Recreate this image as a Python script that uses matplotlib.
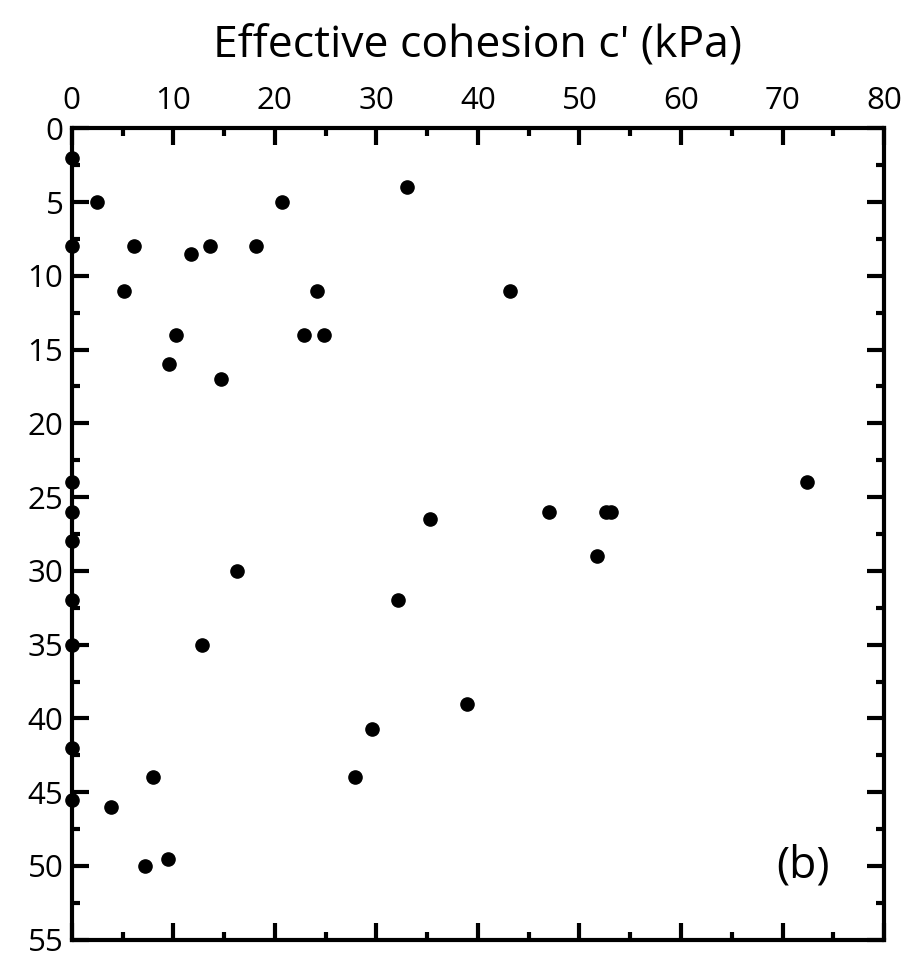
import matplotlib.pyplot as plt
from matplotlib.ticker import MultipleLocator

plt.rcParams['font.family'] = ['Open Sans', 'DejaVu Sans']

# Effective cohesion c' (kPa) vs depth (m)
cohesion = [0, 2.5, 0, 6.1, 11.7, 13.6, 18.1, 20.7, 33.0, 5.1, 24.2, 43.2,
            10.3, 22.9, 24.8, 9.6, 14.7, 0, 0, 0, 0, 0, 0, 0,
            72.4, 35.3, 47.0, 52.6, 53.1, 51.7, 16.3, 32.1, 12.8, 38.9,
            29.6, 27.9, 8.0, 3.9, 7.2, 9.5]
depth = [2, 5, 8, 8, 8.5, 8, 8, 5, 4, 11, 11, 11,
         14, 14, 14, 16, 17, 24, 26, 28, 32, 35, 42, 45.5,
         24, 26.5, 26, 26, 26, 29, 30, 32, 35, 39,
         40.7, 44, 44, 46, 50, 49.5]

fig = plt.figure(figsize=(9.2, 9.57), dpi=100)
ax = fig.add_axes([0.078, 0.018, 0.883, 0.848])

ax.plot(cohesion, depth, 'o', color='black', markersize=9.5, clip_on=False, zorder=3)

ax.set_xlim(0, 80)
ax.set_ylim(55, 0)
ax.xaxis.set_major_locator(MultipleLocator(10))
ax.xaxis.set_minor_locator(MultipleLocator(5))
ax.yaxis.set_major_locator(MultipleLocator(5))
ax.yaxis.set_minor_locator(MultipleLocator(2.5))

ax.tick_params(which='both', direction='in', top=True, bottom=True, left=True, right=True,
               labeltop=True, labelbottom=False, width=3, labelsize=22.5)
ax.tick_params(which='major', length=12, pad=6)
ax.tick_params(which='minor', length=6)
ax.tick_params(axis='x', which='major', pad=9)
for s in ax.spines.values():
    s.set_linewidth(3)

ax.set_xlabel("Effective cohesion c' (kPa)", fontsize=32, labelpad=20)
ax.xaxis.set_label_position('top')
ax.text(0.933, 0.09, '(b)', transform=ax.transAxes, fontsize=32, ha='right', va='center')

fig.savefig('out.png', dpi=100)
